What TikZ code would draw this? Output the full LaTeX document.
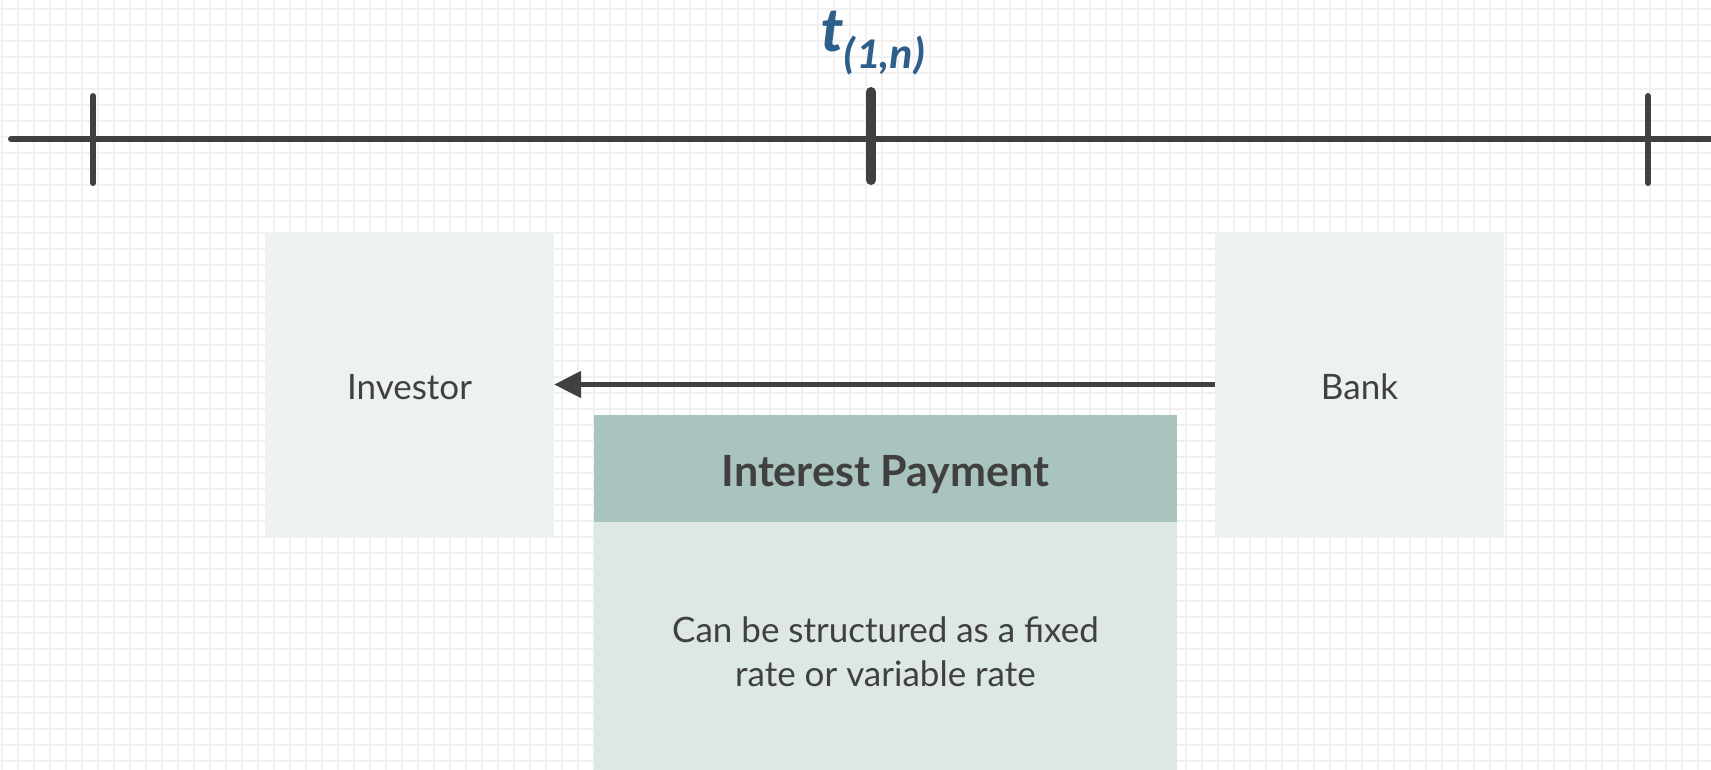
\documentclass[tikz,border=0pt]{standalone}
\usepackage{fontspec}
\setmainfont{Lato}
\newfontfamily\tfont{Carlito}
\usetikzlibrary{arrows.meta}
\definecolor{gridc}{RGB}{240,240,240}
\definecolor{linec}{RGB}{64,64,64}
\definecolor{sidebox}{RGB}{237,241,239}
\definecolor{headfill}{RGB}{169,196,191}
\definecolor{bodyfill}{RGB}{221,231,227}
\definecolor{tblue}{RGB}{46,94,138}
\tikzset{
  sidebx/.style={fill=sidebox, draw=none, minimum width=289pt, minimum height=305pt, inner sep=0pt},
  sidetxt/.style={text=linec, inner sep=0pt, font=\fontsize{35}{42}\selectfont},
  headbx/.style={fill=headfill, draw=none, minimum width=583pt, minimum height=107pt, inner sep=0pt},
  headtxt/.style={text=linec, inner sep=0pt, font=\fontsize{43}{50}\selectfont\bfseries},
  bodybx/.style={fill=bodyfill, draw=none, minimum width=583pt, minimum height=248pt, inner sep=0pt},
  bodytxt/.style={text=linec, align=center, font=\fontsize{35}{44}\selectfont},
  axis/.style={draw=linec, line width=6pt, line cap=round},
  tick/.style={draw=linec, line width=6pt, line cap=round},
  bigtick/.style={draw=linec, line width=10pt, line cap=round},
  flow/.style={draw=linec, line width=5pt, -{Triangle[length=27pt,width=26pt]}}
}
\begin{document}
\begin{tikzpicture}[x=1pt,y=-1pt]
\useasboundingbox (0,0) rectangle (1711,770);
\fill[white] (0,0) rectangle (1711,770);
\foreach \i in {0,...,106} \draw[gridc, line width=2pt] ({1.7+16*\i},0) -- ({1.7+16*\i},770);
\foreach \j in {0,...,47} \draw[gridc, line width=2pt] (0,{9.3+16*\j}) -- (1711,{9.3+16*\j});
% timeline
\coordinate (axl) at (11,139);
\coordinate (axr) at (1715,139);
\draw[axis] (axl) -- (axr);
\coordinate (t0a) at (93,96); \coordinate (t0b) at (93,183);
\coordinate (t1a) at (871,92); \coordinate (t1b) at (871,180);
\coordinate (t2a) at (1648,96); \coordinate (t2b) at (1648,183);
\draw[tick] (t0a) -- (t0b);
\draw[bigtick] (t1a) -- (t1b);
\draw[tick] (t2a) -- (t2b);
\node[anchor=base west, inner sep=0pt, text=tblue, font=\tfont\bfseries\itshape\fontsize{64}{66}\selectfont] (tlab) at (820,52) {t\raisebox{-17pt}{\fontsize{44}{46}\selectfont(1,n)}};
% boxes
\node[sidebx] (inv) at (409.5,384.5) {};
\node[sidebx] (bank) at (1359.5,384.5) {};
\node[sidetxt] (invtxt) at (409.5,387) {Investor};
\node[sidetxt] (banktxt) at (1359.5,387) {Bank};
\node[bodybx] (body) at (885.5,646) {};
\node[headbx] (head) at (885.5,468.5) {};
\node[headtxt] (headlab) at (885.5,475) {Interest Payment};
\node[bodytxt] (btxt) at (885.5,652) {Can be structured as a fixed\\rate or variable rate};
\draw[flow] (bank.west) -- (inv.east);
\end{tikzpicture}
\end{document}
